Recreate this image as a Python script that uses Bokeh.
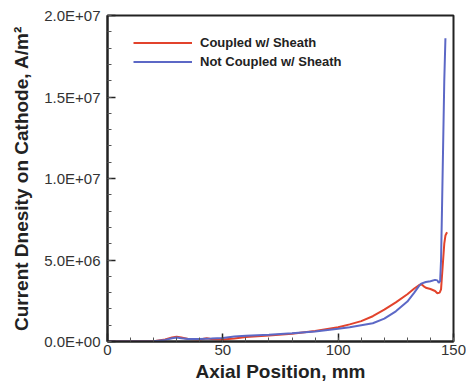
from bokeh.plotting import figure
from bokeh.models import Range1d, FixedTicker, Legend, LegendItem
from bokeh.embed import file_html
from bokeh.resources import INLINE

# Axial position (mm) and current density (A/m^2)
x_coupled = [0, 10, 20, 25, 28, 30, 32, 35, 40, 43, 45, 50, 55, 60, 70, 80, 90, 100,
             105, 110, 115, 120, 125, 130, 133, 135, 136, 137, 138, 140, 142, 143,
             144, 144.6, 145, 145.5, 146, 146.5, 147.2]
y_coupled = [0, 0, 0.02e6, 0.12e6, 0.25e6, 0.3e6, 0.25e6, 0.15e6, 0.12e6, 0.2e6, 0.15e6,
             0.12e6, 0.18e6, 0.27e6, 0.37e6, 0.47e6, 0.65e6, 0.88e6,
             1.05e6, 1.25e6, 1.55e6, 1.95e6, 2.4e6, 2.9e6, 3.25e6, 3.45e6, 3.52e6, 3.4e6,
             3.3e6, 3.22e6, 3.1e6, 2.96e6,
             3.0e6, 3.2e6, 4.0e6, 5.0e6, 6.0e6, 6.5e6, 6.7e6]

x_not_coupled = [0, 10, 20, 25, 28, 30, 32, 35, 40, 45, 50, 55, 60, 70, 80, 90, 100,
                 105, 110, 115, 120, 125, 130, 133, 135, 136, 138, 140, 142, 143,
                 143.6, 144.2, 144.6, 145, 145.5, 146, 146.5]
y_not_coupled = [0, 0, 0.02e6, 0.1e6, 0.2e6, 0.25e6, 0.2e6, 0.15e6, 0.15e6, 0.18e6, 0.22e6,
                 0.3e6, 0.35e6, 0.42e6, 0.5e6, 0.62e6, 0.78e6,
                 0.88e6, 1.0e6, 1.12e6, 1.4e6, 1.85e6, 2.45e6, 3.0e6, 3.4e6, 3.55e6, 3.65e6,
                 3.7e6, 3.78e6, 3.75e6,
                 3.6e6, 3.7e6, 5.0e6, 8.0e6, 12.0e6, 16.0e6, 18.6e6]

x_ticks = [0, 50, 100, 150]
x_minor = list(range(0, 151, 10))
y_ticks = [0, 5000000, 10000000, 15000000, 20000000]
y_tick_labels = ["0.0E+00", "5.0E+06", "1.0E+07", "1.5E+07", "2.0E+07"]
y_minor = list(range(0, 20000001, 1000000))

series_names = ["Coupled w/ Sheath", "Not Coupled w/ Sheath"]
series_colors = ["#e2432c", "#5c68c6"]

p = figure(width=466, height=385, output_backend="svg", toolbar_location=None,
           x_range=Range1d(0, 150), y_range=Range1d(0, 2e7),
           min_border_left=107, min_border_right=13, min_border_top=15,
           min_border_bottom=44)
p.background_fill_color = "white"
p.border_fill_color = "white"
p.outline_line_color = "#222222"
p.outline_line_width = 2
p.xgrid.visible = False
p.ygrid.visible = False

r1 = p.line(x_coupled, y_coupled, line_color=series_colors[0], line_width=2)
r2 = p.line(x_not_coupled, y_not_coupled, line_color=series_colors[1], line_width=2)

for ax in (p.xaxis[0], p.yaxis[0]):
    ax.axis_line_color = "#222222"
    ax.axis_line_width = 2
    ax.major_tick_in = 8
    ax.major_tick_out = 0
    ax.minor_tick_in = 4
    ax.minor_tick_out = 0
    ax.major_tick_line_color = "#222222"
    ax.major_tick_line_width = 1.5
    ax.minor_tick_line_color = "#555555"
    ax.major_label_text_font = "Liberation Sans"
    ax.major_label_text_font_size = "15px"
    ax.major_label_text_color = "#333333"
    ax.axis_label_text_font = "Liberation Sans"
    ax.axis_label_text_font_style = "bold"
    ax.axis_label_text_font_size = "19px"
    ax.axis_label_text_color = "#222222"

p.xaxis.ticker = FixedTicker(ticks=x_ticks, minor_ticks=x_minor)
p.yaxis.ticker = FixedTicker(ticks=y_ticks, minor_ticks=y_minor)
p.yaxis.major_label_overrides = {t: l for t, l in zip(y_ticks, y_tick_labels)}
p.xaxis.major_label_standoff = 3
p.yaxis.major_label_standoff = 7
p.xaxis.axis_label = "Axial Position, mm"
p.yaxis.axis_label = "Current Dnesity on Cathode, A/m\u00b2"
p.xaxis.axis_label_standoff = 3
p.yaxis.axis_label_standoff = 9

legend = Legend(items=[LegendItem(label=series_names[0], renderers=[r1]),
                       LegendItem(label=series_names[1], renderers=[r2])],
                location=(26, 270))
legend.border_line_color = None
legend.background_fill_alpha = 0
legend.padding = 0
legend.margin = 0
legend.spacing = 0
legend.label_height = 19
legend.glyph_height = 19
legend.glyph_width = 59
legend.label_standoff = 8
legend.label_text_font = "Liberation Sans"
legend.label_text_font_style = "bold"
legend.label_text_font_size = "13px"
legend.label_text_color = "#222222"
p.add_layout(legend, "center")

open("out.html", "w").write(file_html(p, INLINE))
